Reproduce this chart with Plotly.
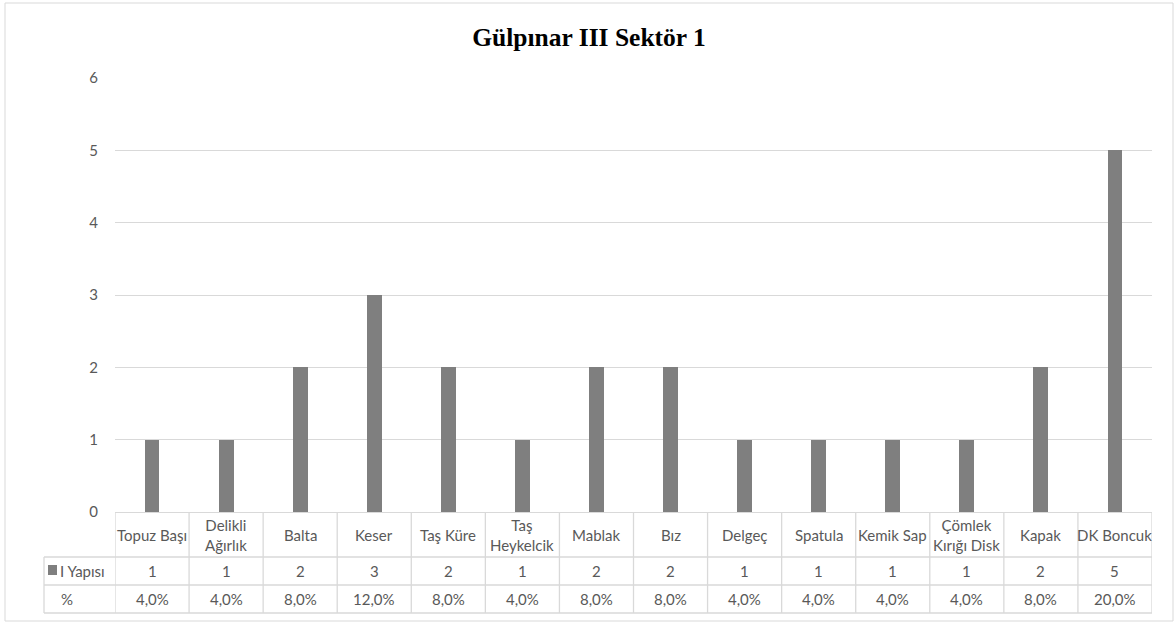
import plotly.graph_objects as go

# Finds per category (Gülpınar III, sector 1)
categories = ["Topuz Başı", "Delikli<br>Ağırlık", "Balta", "Keser", "Taş Küre",
              "Taş<br>Heykelcik", "Mablak", "Bız", "Delgeç", "Spatula",
              "Kemik Sap", "Çömlek<br>Kırığı Disk", "Kapak", "DK Boncuk"]
counts = [1, 1, 2, 3, 2, 1, 2, 2, 1, 1, 1, 1, 2, 5]
percent_labels = ["4,0%", "4,0%", "8,0%", "12,0%", "8,0%", "4,0%", "8,0%",
                  "8,0%", "4,0%", "4,0%", "4,0%", "4,0%", "8,0%", "20,0%"]
series_name = "I Yapısı"
percent_row_name = "%"
y_ticks = [0, 1, 2, 3, 4, 5, 6]
title_text = "Gülpınar III Sektör 1"

W, H = 1176, 623
L, R, T, B = 115, 24, 78, 111
PW, PH = W - L - R, H - T - B

BAR = "#7f7f7f"
GRID = "#d9d9d9"
TXT = "#595959"
FONT = "Lato"
FS = 15


def px_x(p):
    return (p - L) / PW


def px_y(p):
    return (H - B - p) / PH


n = len(categories)
xs = list(range(n))

fig = go.Figure(go.Bar(x=xs, y=counts, marker=dict(color=BAR, line=dict(width=0)),
                       width=0.2, name=series_name, showlegend=False, hoverinfo="x+y"))

shapes = []
annotations = []

# chart frame
shapes.append(dict(type="rect", xref="paper", yref="paper",
                   x0=px_x(5), x1=px_x(1173), y0=px_y(621), y1=px_y(3),
                   line=dict(color=GRID, width=1), fillcolor="rgba(0,0,0,0)", layer="below"))

# data table rows (pixel positions of the row borders)
row_cat_bottom = 557
row_val_bottom = 585
row_pct_bottom = 613
table_left = 44

line_style = dict(color=GRID, width=1.3)
for yb in (row_cat_bottom, row_val_bottom, row_pct_bottom):
    shapes.append(dict(type="line", xref="paper", yref="paper",
                       x0=px_x(table_left), x1=1, y0=px_y(yb), y1=px_y(yb), line=line_style))
# vertical separators at category boundaries
for k in range(n + 1):
    shapes.append(dict(type="line", xref="x", yref="paper",
                       x0=k - 0.5, x1=k - 0.5, y0=0, y1=px_y(row_pct_bottom), line=line_style))
shapes.append(dict(type="line", xref="paper", yref="paper",
                   x0=px_x(table_left), x1=px_x(table_left),
                   y0=px_y(row_cat_bottom), y1=px_y(row_pct_bottom), line=line_style))

cat_mid = px_y((512 + row_cat_bottom) / 2)
val_mid = px_y((row_cat_bottom + row_val_bottom) / 2)
pct_mid = px_y((row_val_bottom + row_pct_bottom) / 2)

for i in range(n):
    annotations.append(dict(x=i, y=cat_mid, xref="x", yref="paper", text=categories[i],
                            showarrow=False, font=dict(family=FONT, size=FS, color=TXT),
                            xanchor="center", yanchor="middle"))
    annotations.append(dict(x=i, y=val_mid, xref="x", yref="paper", text=str(counts[i]),
                            showarrow=False, font=dict(family=FONT, size=FS, color=TXT),
                            xanchor="center", yanchor="middle"))
    annotations.append(dict(x=i, y=pct_mid, xref="x", yref="paper", text=percent_labels[i],
                            showarrow=False, font=dict(family=FONT, size=FS, color=TXT),
                            xanchor="center", yanchor="middle"))

# legend key and row headers
shapes.append(dict(type="rect", xref="paper", yref="paper",
                   x0=px_x(48), x1=px_x(57), y0=px_y(575), y1=px_y(565),
                   fillcolor=BAR, line=dict(width=0)))
annotations.append(dict(x=px_x(58), y=val_mid, xref="paper", yref="paper", text=series_name,
                        showarrow=False, font=dict(family=FONT, size=FS, color=TXT),
                        xanchor="left", yanchor="middle"))
annotations.append(dict(x=px_x(67), y=pct_mid, xref="paper", yref="paper", text=percent_row_name,
                        showarrow=False, font=dict(family=FONT, size=FS, color=TXT),
                        xanchor="center", yanchor="middle"))

fig.update_layout(
    width=W, height=H,
    margin=dict(l=L, r=R, t=T, b=B, autoexpand=False),
    paper_bgcolor="white", plot_bgcolor="white",
    title=dict(text="<b>" + title_text + "</b>", xref="container", x=589 / W, xanchor="center",
               yref="container", y=1 - 37 / H, yanchor="middle",
               font=dict(family="Liberation Serif", size=25.5, color="black")),
    bargap=0,
    shapes=shapes, annotations=annotations,
    xaxis=dict(range=[-0.5, n - 0.5], showticklabels=False, showgrid=False,
               zeroline=False, showline=False, ticks="", fixedrange=True),
    yaxis=dict(range=[0, 6], tickvals=y_ticks, showgrid=True, gridcolor=GRID, gridwidth=1.3,
               zeroline=True, zerolinecolor=GRID, zerolinewidth=1.3, showline=False,
               ticks="", ticklabelstandoff=16,
               tickfont=dict(family=FONT, size=FS, color=TXT), fixedrange=True),
)

fig.write_html("out.html")
